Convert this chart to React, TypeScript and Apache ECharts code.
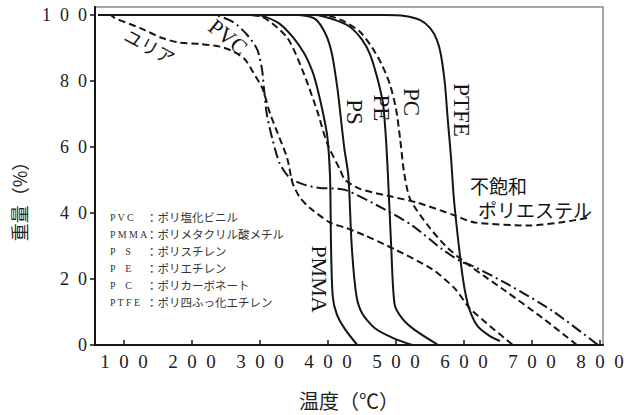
import React, { useEffect, useRef } from "react";
import * as echarts from "echarts";

// Temperature ticks (°C) and weight ticks (%)
const xTicks = [100, 200, 300, 400, 500, 600, 700, 800];
const yTicks = [0, 20, 40, 60, 80, 100];

// Thermogravimetric curves: [temperature °C, residual weight %]
const urea: [number, number][] = [
  [62, 100], [80, 100], [87, 99], [124, 96], [156, 93], [182, 91.6], [212, 91.2],
  [241, 90.4], [260, 89], [278, 86.5], [290, 82.6], [304, 77.5], [315, 70],
  [325, 64.7], [340, 56.6], [348, 49], [359, 44.6], [373, 41.6], [403, 37.1],
  [425, 35.6], [454, 33.2], [498, 29], [553, 23], [587, 17], [609, 11], [672, 0],
];
const pvc: [number, number][] = [
  [62, 100], [230, 100], [260, 97.9], [281, 94], [296, 89.5], [303, 83.5],
  [306, 77.5], [310, 70], [318, 62.6], [329, 55], [344, 50.6], [366, 48.5],
  [388, 47.6], [425, 47], [484, 41], [524, 36.2], [568, 29], [597, 25.1],
  [609, 24.3], [668, 18], [731, 10.2], [797, 0],
];
const unsaturatedPolyester: [number, number][] = [
  [62, 100], [270, 100], [303, 99.4], [340, 93.1], [363, 83], [384, 71],
  [399, 61], [418, 53], [425, 50], [447, 47.3], [488, 45.2], [532, 43.1],
  [587, 39.2], [616, 37.1], [697, 36.2], [741, 37.1], [785, 38.6],
];
const pmma: [number, number][] = [
  [62, 100], [290, 100], [304, 99.7], [329, 97.3], [349, 93.1], [366, 88],
  [377, 83], [384, 78.1], [393, 70], [399, 63.2], [403, 51.2], [404.5, 29.6],
  [407, 14.7], [413, 9.3], [425, 4.8], [443, 0],
];
const ps: [number, number][] = [
  [62, 100], [355, 100], [381, 98.8], [397, 94], [406, 88], [414, 77.5],
  [419, 68.6], [424, 59.6], [430, 51.2], [435, 29.6], [442, 14.7], [451, 9.3],
  [469, 5.1], [496, 2.1], [524, 0],
];
const pe: [number, number][] = [
  [62, 100], [381, 100], [410, 98.5], [432, 96.4], [450, 92.5], [462, 88],
  [473, 80.5], [481, 73], [485, 63.2], [488, 52.1], [493, 29.6], [498, 12.3],
  [509, 8.1], [528, 4.5], [562, 0],
];
const pc: [number, number][] = [
  [62, 100], [391, 100], [407, 99.4], [425, 97.9], [447, 94.9], [465, 90.1],
  [479, 85], [491, 79], [500, 71.6], [506, 62.6], [512, 52.1], [521, 44.1],
  [547, 36.2], [572, 30.2], [601, 25.1], [631, 20.7], [660, 16.5], [716, 8.1],
  [766, 0],
];
const ptfe: [number, number][] = [
  [62, 100], [484, 100], [513, 99.7], [535, 98.5], [550, 96.1], [560, 92.5],
  [566, 88], [572, 79], [576, 68.6], [581, 56.6], [585, 44.6], [591, 32.6],
  [598, 20.7], [603, 14.7], [609, 10.2], [620, 5.7], [638, 2.7], [653, 1.2],
];

// Abbreviation key
const keyAbbr = ["P V C", "P M M A", "P\u3000S", "P\u3000E", "P\u3000C", "P T F E"];
const keyName = [
  "：ポリ塩化ビニル",
  "：ポリメタクリル酸メチル",
  "：ポリスチレン",
  "：ポリエチレン",
  "：ポリカーボネート",
  "：ポリ四ふっ化エチレン",
];

const INK = "#151515";
const SERIF = "'Liberation Serif', 'DejaVu Serif', serif";
const JP = "'Noto Sans CJK JP', sans-serif";
const DASH = [7, 4];
const DASH_DOT = [11, 4, 2, 4];

const spaced = (v: number) => String(v).split("").join("\u2002");

function lineSeries(name: string, data: [number, number][], type: any) {
  return {
    name,
    type: "line",
    data,
    showSymbol: false,
    smooth: 0.25,
    lineStyle: { color: INK, width: 2, type },
    z: 3,
  };
}

function curveLabel(text: string, x: number, y: number, rotation: number, size: number, font = SERIF) {
  return {
    type: "text",
    x,
    y,
    rotation,
    z: 10,
    style: {
      text,
      fontFamily: font,
      fontSize: size,
      fill: INK,
      align: "center",
      verticalAlign: "middle",
    },
  };
}

export default function App() {
  const ref = useRef<HTMLDivElement>(null);

  useEffect(() => {
    if (!ref.current) return;
    const chart = echarts.init(ref.current, undefined, { renderer: "svg" });

    const keyTexts: any[] = [];
    keyAbbr.forEach((abbr, i) => {
      const y = 217 + i * 17;
      keyTexts.push({
        type: "text",
        x: 110,
        y,
        z: 10,
        style: { text: abbr, fontFamily: SERIF, fontSize: 10, fill: "#333", align: "left", verticalAlign: "middle" },
      });
      keyTexts.push({
        type: "text",
        x: 146,
        y,
        z: 10,
        style: { text: keyName[i], fontFamily: JP, fontSize: 11.5, fill: "#333", align: "left", verticalAlign: "middle" },
      });
    });

    chart.setOption({
      animation: false,
      backgroundColor: "#ffffff",
      grid: {
        left: 95,
        right: 24,
        top: 7,
        bottom: 66,
        show: true,
        borderColor: "#8a8a8a",
        borderWidth: 1.5,
      },
      xAxis: {
        type: "value",
        min: 57.4,
        max: 804.4,
        name: "温度（℃）",
        nameLocation: "middle",
        nameGap: 45,
        nameTextStyle: { fontFamily: JP, fontSize: 20, color: "#222" },
        axisLine: { show: true, onZero: false, lineStyle: { color: INK, width: 2 } },
        axisTick: { show: true, inside: true, length: 5, customValues: xTicks, lineStyle: { color: INK, width: 1.5 } },
        axisLabel: {
          customValues: xTicks,
          formatter: (v: number) => spaced(v),
          fontFamily: SERIF,
          fontSize: 19,
          color: "#222",
          margin: 7,
        },
        splitLine: { show: false },
      },
      yAxis: {
        type: "value",
        min: 0,
        max: 102.4,
        axisLine: { show: true, onZero: false, lineStyle: { color: INK, width: 2 } },
        axisTick: { show: true, inside: false, length: 5, customValues: yTicks, lineStyle: { color: INK, width: 1.5 } },
        axisLabel: {
          customValues: yTicks,
          formatter: (v: number) => spaced(v),
          fontFamily: SERIF,
          fontSize: 18,
          color: "#222",
          margin: 8,
        },
        splitLine: { show: false },
      },
      series: [
        lineSeries("ユリア", urea, DASH),
        lineSeries("PVC", pvc, DASH_DOT),
        lineSeries("不飽和ポリエステル", unsaturatedPolyester, DASH),
        lineSeries("PMMA", pmma, "solid"),
        lineSeries("PS", ps, "solid"),
        lineSeries("PE", pe, "solid"),
        lineSeries("PC", pc, DASH),
        lineSeries("PTFE", ptfe, "solid"),
      ],
      graphic: [
        {
          type: "text",
          x: 19,
          y: 197,
          rotation: Math.PI / 2,
          style: { text: "重量（%）", fontFamily: JP, fontSize: 18, fill: "#222", align: "center", verticalAlign: "middle" },
        },
        curveLabel("ユリア", 150, 46, -0.49, 18, JP),
        curveLabel("PVC", 228, 37, -0.68, 22),
        curveLabel("PS", 354, 112, -Math.PI / 2, 23),
        curveLabel("PE", 381, 108, -Math.PI / 2, 23),
        curveLabel("PC", 411, 102, -Math.PI / 2, 23),
        curveLabel("PTFE", 461, 110, -Math.PI / 2, 23),
        curveLabel("PMMA", 319, 279, -Math.PI / 2, 22),
        {
          type: "text",
          x: 470,
          y: 185,
          z: 10,
          style: { text: "不飽和", fontFamily: JP, fontSize: 19, fill: INK, align: "left", verticalAlign: "middle" },
        },
        {
          type: "text",
          x: 478,
          y: 209,
          z: 10,
          style: { text: "ポリエステル", fontFamily: JP, fontSize: 19, fill: INK, align: "left", verticalAlign: "middle" },
        },
        ...keyTexts,
      ],
    });

    return () => chart.dispose();
  }, []);

  return (
    <div
      ref={ref}
      style={{ position: "absolute", left: 0, top: 0, width: 627, height: 415, background: "#fff" }}
    />
  );
}
